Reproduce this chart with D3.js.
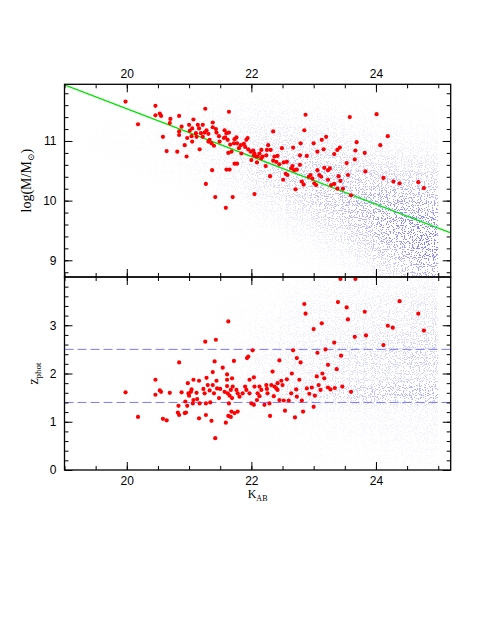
<!DOCTYPE html>
<html>
<head>
<meta charset="utf-8">
<script src="https://cdn.jsdelivr.net/npm/d3@7"></script>
<style>
  body { margin: 0; background: #fff; }
  .tick text { font-family: "Liberation Sans", Arial, sans-serif; font-size: 12px; fill: #000; }
  .tick line { stroke: #000; stroke-width: 1; }
  .lab { font-family: "Liberation Serif", "DejaVu Serif", serif; fill: #000; }
</style>
</head>
<body>
<div id="chart"></div>
<script>
// red galaxies, upper panel: K_AB and log(M/Msun)
const massK = [19.98,20.18,20.46,20.46,20.53,20.55,20.70,20.69,20.84,20.58,20.64,20.81,20.96,20.93,20.84,20.84,20.88,21.00,21.07,21.14,
  21.26,21.22,21.38,21.37,21.27,21.42,21.59,21.05,21.01,20.97,21.04,21.11,21.05,21.17,21.19,21.25,21.28,21.31,21.33,21.36,
  21.40,21.31,21.43,21.44,21.48,21.49,21.56,21.57,21.38,21.16,21.22,21.12,21.64,21.60,21.65,21.73,21.77,
  21.60,21.64,21.58,21.62,21.66,21.68,21.63,21.73,21.76,21.72,21.77,21.80,21.84,21.83,21.88,21.92,21.94,21.90,21.95,21.99,
  22.03,22.05,22.08,22.00,22.04,22.10,22.13,22.16,22.09,22.16,22.18,22.24,22.27,22.25,22.31,22.23,22.30,22.37,22.35,22.40,
  22.42,22.45,22.49,22.52,22.57,22.55,22.51,22.58,22.67,22.64,22.69,22.66,22.73,22.71,22.78,22.79,22.81,22.84,22.78,22.89,
  22.92,22.95,23.00,22.98,23.01,23.04,23.06,23.09,23.12,23.06,23.13,23.16,23.20,23.17,23.23,23.23,23.26,23.28,22.87,22.85,
  22.35,21.70,22.05,
  23.33,23.38,23.42,23.58,23.69,23.67,23.66,23.53,23.55,23.43,23.33,23.38,23.47,23.60,23.82,23.83,24.01,24.07,24.19,24.12,
  24.28,24.38,24.68,24.77,23.40];
const massLog = [11.66,11.28,11.59,11.43,11.46,11.42,11.37,11.30,11.42,11.07,10.83,10.82,10.74,10.93,11.16,11.10,11.24,11.27,11.36,11.27,
  11.54,11.27,11.31,10.51,10.28,10.06,9.88,11.21,11.17,11.05,11.08,11.13,10.99,10.86,11.13,11.14,11.18,11.12,11.02,10.96,
  10.92,10.99,11.20,11.14,11.08,10.99,11.05,11.18,11.23,11.21,11.07,11.07,11.49,10.52,10.52,10.62,10.62,
  11.13,11.14,11.06,11.02,10.94,10.82,10.80,11.03,11.06,10.96,10.96,10.88,10.79,10.93,10.95,11.02,11.05,10.90,10.86,10.82,
  10.84,10.79,10.74,10.68,10.76,10.74,10.79,10.85,10.64,10.71,10.74,10.76,10.93,10.85,10.85,10.58,10.41,10.74,10.67,10.65,
  10.75,10.61,10.88,10.64,10.65,10.45,10.35,10.43,10.89,10.54,10.51,10.58,10.52,10.19,10.76,10.96,10.32,10.27,10.60,10.75,
  10.40,10.43,10.96,10.37,10.29,10.26,10.82,10.43,10.40,10.51,11.02,10.86,11.07,10.55,10.51,10.35,10.54,10.26,11.44,11.18,
  11.16,10.06,10.11,
  10.78,10.85,10.89,11.40,10.98,10.84,10.69,10.63,10.43,10.33,10.28,10.20,10.20,10.09,10.80,10.49,11.45,10.93,11.08,10.38,
  10.32,10.29,10.31,10.21,10.41];

// red galaxies, lower panel: K_AB and z_phot
const zK = [19.98,20.18,20.46,20.46,20.53,20.55,20.58,20.64,20.69,20.84,20.88,20.83,20.82,20.84,20.93,20.95,20.94,20.98,20.97,21.00,
  20.99,21.04,21.03,21.07,21.06,21.07,21.12,21.13,21.16,21.16,21.17,21.23,21.25,21.27,21.28,21.27,21.26,21.30,21.33,21.34,
  21.36,21.38,21.40,21.41,21.42,21.43,21.44,21.38,21.45,21.48,21.50,21.54,21.57,21.59,21.61,21.61,21.61,21.62,21.63,21.63,
  21.64,21.69,21.72,21.70,21.67,21.65,21.69,21.68,21.73,21.78,21.67,21.76,21.78,21.81,21.86,21.90,21.92,21.97,21.93,21.95,
  22.02,22.04,22.05,22.00,22.04,21.97,22.09,22.10,22.13,22.16,22.13,22.21,22.24,22.25,22.26,22.29,22.30,22.32,22.34,22.36,
  22.37,22.40,22.42,22.42,22.45,22.45,22.48,22.50,22.52,22.54,22.57,22.60,22.64,22.65,22.67,22.70,22.72,22.73,22.73,22.77,
  22.79,22.81,22.83,22.85,22.87,22.89,22.93,22.97,23.00,23.00,23.02,23.05,23.06,23.08,23.11,23.13,23.14,23.17,23.19,23.23,
  23.23,23.27,23.33,23.37,23.39,23.44,23.46,23.43,23.67,23.53,23.55,23.82,23.66,23.84,23.34,23.60,24.38,24.12,24.19,24.27,
  24.68,24.77];
const zPhot = [1.61,1.10,1.87,1.56,1.65,1.62,1.06,1.03,1.60,2.23,1.61,1.33,1.19,1.14,1.18,1.19,1.42,1.80,1.33,1.54,
  1.59,1.67,1.62,1.87,1.38,1.45,1.60,1.47,1.85,1.07,1.38,1.68,1.59,1.38,1.91,1.14,2.66,1.76,1.65,1.40,
  1.02,1.76,1.59,2.25,0.66,2.70,1.85,2.03,1.69,1.49,1.68,2.12,1.62,0.98,1.98,1.87,1.74,1.59,3.08,1.12,
  1.38,1.90,2.26,1.73,1.66,1.54,1.49,1.21,1.18,1.21,1.10,1.66,1.59,1.52,1.59,1.73,1.66,1.87,2.32,2.35,
  2.48,1.92,1.73,1.38,1.35,1.59,1.45,1.59,1.73,1.66,1.53,1.35,1.76,1.68,1.59,1.38,1.12,1.76,2.04,1.53,
  1.73,1.69,1.66,1.80,2.27,1.45,1.85,1.76,1.44,1.23,1.88,1.44,1.59,2.00,2.48,1.09,1.67,2.32,1.52,1.87,
  2.23,1.44,1.21,3.44,3.24,1.69,1.58,1.71,2.92,1.31,1.54,1.94,2.43,1.76,1.66,3.04,2.00,1.90,2.50,2.18,
  1.71,1.67,2.64,2.09,3.48,2.37,1.73,3.96,3.96,3.37,3.12,3.28,2.76,2.79,1.70,1.62,3.50,2.59,2.99,2.95,
  3.24,2.89];

// green relation in the upper panel
const fitK = [19, 25.2];
const fitLogM = [11.94, 9.46];
// dashed redshift levels in the lower panel
const zLevels = [1.4, 2.5];

// blue background sample, read by eye as relative density (0-9) per bin
const densK = [19, 19.5, 20, 20.5, 21, 21.5, 22, 22.5, 23, 23.5, 24, 24.5]; // 0.5 mag bins
const massRows = [11.75, 11.5, 11.25, 11, 10.75, 10.5, 10.25, 10, 9.75, 9.5, 9.25, 9, 8.75, 8.5]; // 0.25 dex bins
const massDensity = [
  [0, 0, 0, 0.1, 0.1, 0, 0, 0, 0, 0, 0, 0, 0, 0],
  [0, 0, 0.1, 0.2, 0.2, 0.1, 0, 0, 0, 0, 0, 0, 0, 0],
  [0, 0.1, 0.2, 0.3, 0.3, 0.2, 0.1, 0, 0, 0, 0, 0, 0, 0],
  [0.1, 0.2, 0.4, 0.5, 0.5, 0.4, 0.2, 0.1, 0, 0, 0, 0, 0, 0],
  [0.1, 0.3, 0.6, 0.8, 0.8, 0.7, 0.5, 0.3, 0.1, 0.05, 0, 0, 0, 0],
  [0.2, 0.4, 0.8, 1.2, 1.5, 1.5, 1.2, 0.6, 0.3, 0.2, 0.1, 0, 0, 0],
  [0.3, 0.5, 1.0, 1.7, 2.4, 2.7, 2.4, 1.7, 1.0, 0.5, 0.2, 0.1, 0, 0],
  [0.2, 0.4, 0.8, 1.5, 2.5, 3.2, 3.5, 3.0, 2.0, 1.1, 0.5, 0.2, 0.1, 0],
  [0.2, 0.4, 0.7, 1.3, 2.3, 3.4, 4.2, 4.5, 3.8, 2.6, 1.4, 0.6, 0.3, 0.2],
  [0.1, 0.2, 0.4, 0.8, 1.5, 2.5, 3.8, 5.0, 5.5, 4.5, 3.0, 1.8, 0.8, 0.4],
  [0.1, 0.2, 0.3, 0.6, 1.2, 2.2, 3.5, 5.5, 7.0, 7.5, 6.5, 4.5, 2.8, 1.8],
  [0.1, 0.1, 0.3, 0.5, 1.0, 2.0, 3.2, 4.8, 6.5, 8.0, 8.8, 8.0, 6.0, 5.0]
];
const zRows = [3.8, 3.6, 3.4, 3.2, 3.0, 2.8, 2.6, 2.4, 2.2, 2.0, 1.8, 1.6, 1.4, 1.2, 1.0, 0.8, 0.6, 0.4, 0.2, 0.0]; // 0.2 bins
const zDensity = [
  [0, 0, 0, 0, 0, 0, 0, 0, 0, 0, 0, 0, 0, 0, 0, 0, 0, 0, 0, 0],
  [0, 0, 0, 0, 0, 0, 0, 0, 0, 0.05, 0.05, 0.05, 0.05, 0.05, 0, 0, 0, 0, 0, 0],
  [0, 0, 0, 0, 0, 0, 0, 0.05, 0.05, 0.1, 0.1, 0.1, 0.1, 0.05, 0.05, 0, 0, 0, 0, 0],
  [0, 0, 0, 0, 0, 0.05, 0.05, 0.1, 0.1, 0.15, 0.2, 0.2, 0.2, 0.1, 0.05, 0.05, 0, 0, 0, 0],
  [0.05, 0.05, 0.05, 0.1, 0.1, 0.1, 0.1, 0.15, 0.2, 0.25, 0.25, 0.3, 0.3, 0.15, 0.1, 0.05, 0.05, 0, 0, 0],
  [0.1, 0.1, 0.15, 0.2, 0.2, 0.3, 0.3, 0.4, 0.5, 0.5, 0.5, 0.7, 0.7, 0.3, 0.2, 0.15, 0.1, 0.1, 0.05, 0],
  [0.3, 0.3, 0.3, 0.4, 0.5, 0.6, 0.6, 0.8, 0.9, 0.9, 1.0, 1.4, 1.4, 0.5, 0.3, 0.2, 0.2, 0.15, 0.1, 0.05],
  [0.4, 0.5, 0.6, 0.8, 0.9, 0.9, 1.1, 1.4, 1.4, 1.4, 1.4, 2.0, 2.0, 0.6, 0.4, 0.3, 0.25, 0.2, 0.15, 0.1],
  [0.6, 0.7, 0.9, 1.1, 1.1, 1.2, 1.5, 1.9, 2.0, 1.8, 1.5, 2.7, 2.7, 0.8, 0.5, 0.45, 0.4, 0.3, 0.25, 0.15],
  [0.8, 0.9, 1.2, 1.4, 1.4, 1.5, 2.0, 2.3, 2.4, 2.3, 1.9, 3.5, 3.5, 0.9, 0.6, 0.6, 0.5, 0.4, 0.3, 0.2],
  [0.9, 1.1, 1.5, 1.7, 1.7, 1.9, 2.4, 2.7, 2.9, 2.7, 2.3, 4.2, 4.2, 1.1, 0.8, 0.8, 0.6, 0.5, 0.4, 0.3],
  [1.1, 1.4, 1.8, 2.1, 2.1, 2.3, 2.9, 3.4, 3.5, 3.2, 2.7, 5.0, 5.0, 1.4, 0.9, 0.9, 0.8, 0.6, 0.5, 0.4]
];
const sampleEndK = 25;

const xTickLabels = [20, 22, 24];
const massTickLabels = [9, 10, 11];
const zTickLabels = [0, 1, 2, 3];

// layout
const width = 491, height = 635;
const pLeft = 64.5, pRight = 450.7, pTop = 84.3, pMid = 277, pBottom = 470;

const x = d3.scaleLinear().domain([19, 25.2]).range([pLeft, pRight]);
const yM = d3.scaleLinear().domain([8.72, 11.95]).range([pMid, pTop]);
const yZ = d3.scaleLinear().domain([0, 4]).range([pBottom, pMid]);

const svg = d3.select("#chart").append("svg")
  .attr("width", width)
  .attr("height", height);

const defs = svg.append("defs");

// speckle texture for the faint background sample
const speckle = defs.append("filter")
  .attr("id", "speckle")
  .attr("filterUnits", "userSpaceOnUse")
  .attr("x", pLeft).attr("y", pTop)
  .attr("width", pRight - pLeft).attr("height", pBottom - pTop)
  .attr("color-interpolation-filters", "sRGB");
speckle.append("feTurbulence")
  .attr("type", "fractalNoise")
  .attr("baseFrequency", 0.87)
  .attr("numOctaves", 1)
  .attr("seed", 11);
speckle.append("feColorMatrix")
  .attr("type", "matrix")
  .attr("values", "0 0 0 0 0.36  0 0 0 0 0.36  0 0 0 0 1  -1 0 0 0 0.93");
speckle.append("feComponentTransfer")
  .append("feFuncA").attr("type", "discrete").attr("tableValues", "0 1");

function densityLayer(id, rows, rowH, grid, yScale, y0, y1, blur) {
  defs.append("filter")
    .attr("id", id + "Blur")
    .attr("filterUnits", "userSpaceOnUse")
    .attr("x", 0).attr("y", 0).attr("width", width).attr("height", height)
    .append("feGaussianBlur")
    .attr("stdDeviation", blur);

  const mask = defs.append("mask")
    .attr("id", id + "Mask")
    .attr("maskUnits", "userSpaceOnUse")
    .attr("x", 0).attr("y", 0).attr("width", width).attr("height", height);

  const cells = [];
  grid.forEach((col, i) => {
    const k0 = densK[i];
    const k1 = i === densK.length - 1 ? x.domain()[1] : densK[i + 1];
    col.forEach((v, j) => cells.push({ k0, k1, lo: rows[j], hi: rows[j] + rowH, v }));
  });

  mask.append("g")
    .attr("filter", `url(#${id}Blur)`)
    .selectAll("rect").data(cells).enter().append("rect")
    .attr("x", d => x(d.k0))
    .attr("width", d => x(d.k1) - x(d.k0))
    .attr("y", d => yScale(d.hi))
    .attr("height", d => yScale(d.lo) - yScale(d.hi))
    .attr("fill", "#fff")
    .attr("fill-opacity", d => Math.min(0.8, d.v / 10.5));

  defs.append("clipPath").attr("id", id + "Clip")
    .append("rect")
    .attr("x", x(19)).attr("y", y0)
    .attr("width", x(sampleEndK) - x(19)).attr("height", y1 - y0);

  svg.append("g")
    .attr("clip-path", `url(#${id}Clip)`)
    .append("g")
    .attr("mask", `url(#${id}Mask)`)
    .append("rect")
    .attr("x", x(19)).attr("y", y0)
    .attr("width", x(sampleEndK) - x(19)).attr("height", y1 - y0)
    .attr("fill", "#000")
    .attr("filter", "url(#speckle)");
}

densityLayer("mass", massRows, 0.25, massDensity, yM, pTop, pMid, "9 5");
densityLayer("z", zRows, 0.2, zDensity, yZ, pMid, pBottom, "9 3");

// clip for lines
defs.append("clipPath").attr("id", "topClip")
  .append("rect").attr("x", pLeft).attr("y", pTop).attr("width", pRight - pLeft).attr("height", pMid - pTop);

// green line
const fitLine = d3.line().x(d => x(d[0])).y(d => yM(d[1]));
svg.append("path")
  .datum(fitK.map((k, i) => [k, fitLogM[i]]))
  .attr("d", fitLine)
  .attr("clip-path", "url(#topClip)")
  .attr("fill", "none")
  .attr("stroke", "#00e400")
  .attr("stroke-width", 1.2);

// dashed levels
svg.selectAll(".zlevel").data(zLevels).enter().append("line")
  .attr("class", "zlevel")
  .attr("x1", x(19)).attr("x2", x(25.2))
  .attr("y1", d => yZ(d)).attr("y2", d => yZ(d))
  .attr("stroke", "#7b7bff")
  .attr("stroke-width", 1)
  .attr("stroke-dasharray", "9,4");

// red points
svg.append("g").selectAll("circle")
  .data(massK.map((k, i) => [k, massLog[i]]))
  .enter().append("circle")
  .attr("cx", d => x(d[0])).attr("cy", d => yM(d[1]))
  .attr("r", 2.1).attr("fill", "#ff0000");

svg.append("g").selectAll("circle")
  .data(zK.map((k, i) => [k, zPhot[i]]))
  .enter().append("circle")
  .attr("cx", d => x(d[0])).attr("cy", d => yZ(d[1]))
  .attr("r", 2.1).attr("fill", "#ff0000");

// frames
[[pTop, pMid], [pMid, pBottom]].forEach(([a, b]) => {
  svg.append("rect")
    .attr("x", pLeft).attr("y", a)
    .attr("width", pRight - pLeft).attr("height", b - a)
    .attr("fill", "none").attr("stroke", "#000").attr("stroke-width", 1.3);
});

// axes (inward ticks on every side)
const kMinor = d3.range(19, 25.21, 0.5).map(v => +v.toFixed(2));
const massMinor = d3.range(8.8, 11.95, 0.2).map(v => +v.toFixed(2));
const zMinor = d3.range(0.2, 4, 0.2).map(v => +v.toFixed(2));
const noDomain = g => g.select(".domain").remove();

function axisPair(make, scale, tx, ty, major, minor, labelled, pad) {
  svg.append("g").attr("transform", `translate(${tx},${ty})`)
    .call(make(scale).tickValues(minor).tickSize(-4).tickFormat(""))
    .call(noDomain);
  svg.append("g").attr("transform", `translate(${tx},${ty})`)
    .call(make(scale).tickValues(major).tickSize(-8).tickPadding(pad)
      .tickFormat(labelled ? d3.format("d") : ""))
    .call(noDomain);
}

axisPair(d3.axisTop, x, 0, pTop, xTickLabels, kMinor, true, 6.3);
axisPair(d3.axisBottom, x, 0, pMid, xTickLabels, kMinor, false, 0);
axisPair(d3.axisTop, x, 0, pMid, xTickLabels, kMinor, false, 0);
axisPair(d3.axisBottom, x, 0, pBottom, xTickLabels, kMinor, true, 6.5);
axisPair(d3.axisLeft, yM, pLeft, 0, massTickLabels, massMinor, true, 8);
axisPair(d3.axisRight, yM, pRight, 0, massTickLabels, massMinor, false, 0);
axisPair(d3.axisLeft, yZ, pLeft, 0, zTickLabels, zMinor, true, 8);
axisPair(d3.axisRight, yZ, pRight, 0, zTickLabels, zMinor, false, 0);

// axis titles
const massTitle = svg.append("text").attr("class", "lab")
  .attr("transform", `translate(31,${(pTop + pMid) / 2}) rotate(-90)`)
  .attr("text-anchor", "middle").attr("font-size", 14);
massTitle.append("tspan").text("log(M/M");
massTitle.append("tspan").attr("font-size", 9).attr("baseline-shift", "-3").text("⊙");
massTitle.append("tspan").text(")");

const zTitle = svg.append("text").attr("class", "lab")
  .attr("transform", `translate(38,${(pMid + pBottom) / 2}) rotate(-90)`)
  .attr("text-anchor", "middle").attr("font-size", 14);
zTitle.append("tspan").text("z");
zTitle.append("tspan").attr("font-size", 9).attr("baseline-shift", "-3").text("phot");

const kTitle = svg.append("text").attr("class", "lab")
  .attr("x", (pLeft + pRight) / 2).attr("y", 498)
  .attr("text-anchor", "middle").attr("font-size", 12);
kTitle.append("tspan").text("K");
kTitle.append("tspan").attr("font-size", 8).attr("baseline-shift", "-3").text("AB");
</script>
</body>
</html>
